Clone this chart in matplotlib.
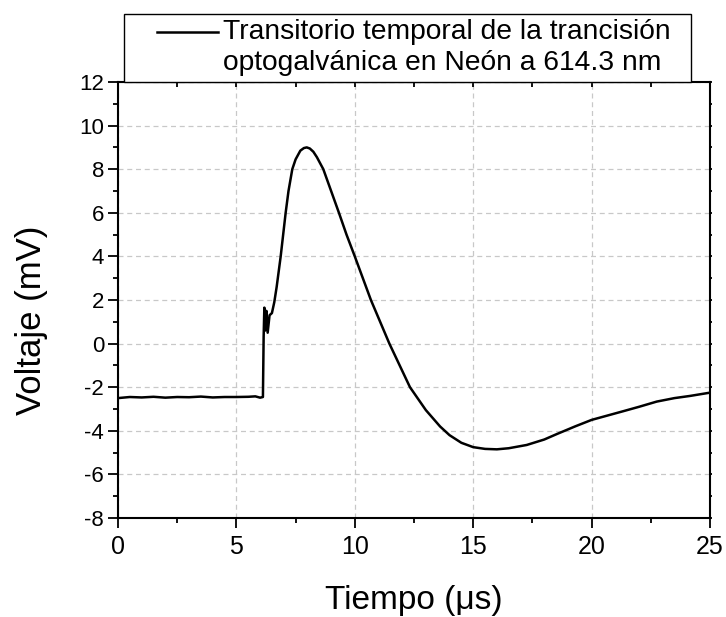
import matplotlib
matplotlib.use("Agg")
import matplotlib.pyplot as plt
from matplotlib.ticker import MultipleLocator
from matplotlib.legend_handler import HandlerLine2D
import matplotlib.lines as mlines
import numpy as np

plt.rcParams['font.family'] = ['Liberation Sans', 'DejaVu Sans']
plt.rcParams['axes.unicode_minus'] = False

# digitised transient (time in us, voltage in mV)
tiempo = [0.0, 0.5, 1.0, 1.5, 2.0, 2.5, 3.0, 3.5, 4.0, 4.5, 5.0, 5.5, 5.8, 6.0, 6.12,
          6.15, 6.18, 6.22, 6.27, 6.32, 6.4, 6.5, 6.6, 6.7, 6.87, 7.08, 7.2, 7.36,
          7.5, 7.7, 7.85, 7.97, 8.1, 8.25, 8.4, 8.67, 9.0, 9.33, 9.65, 10.0, 10.68,
          11.46, 12.33, 13.0, 13.6, 14.0, 14.5, 15.0, 15.5, 16.0, 16.5, 17.26,
          18.0, 18.53, 19.3, 20.0, 21.34, 22.0, 22.75, 23.5, 24.16, 25.0]
voltaje = [-2.5, -2.45, -2.47, -2.44, -2.48, -2.45, -2.46, -2.43, -2.47, -2.45,
           -2.45, -2.44, -2.42, -2.48, -2.45,
           0.3, 1.65, 0.6, 1.5, 0.5, 1.3, 1.4, 1.9, 2.6, 4.0, 6.0, 7.0, 8.0,
           8.45, 8.85, 8.97, 9.0, 8.95, 8.8, 8.55, 8.0, 7.0, 6.0, 5.0, 4.0, 2.0,
           0.0, -2.0, -3.05, -3.8, -4.2, -4.55, -4.75, -4.83, -4.85, -4.8, -4.65,
           -4.4, -4.15, -3.8, -3.5, -3.1, -2.9, -2.66, -2.5, -2.4, -2.25]

etiqueta = 'Transitorio temporal de la trancisión\noptogalvánica en Neón a 614.3 nm'


class HandlerPrimeraLinea(HandlerLine2D):
    # handle sits next to the first text line, with blank space on its left
    def create_artists(self, legend, orig_handle, xdescent, ydescent, width, height,
                       fontsize, trans):
        arts = super().create_artists(legend, orig_handle, xdescent, ydescent, width,
                                      height, fontsize, trans)
        for a in arts:
            x = np.asarray(a.get_xdata(), dtype=float)
            y = np.asarray(a.get_ydata(), dtype=float)
            a.set_xdata([x.min() + 19.7, x.max()])
            a.set_ydata(y[:1].repeat(2) + 0.55 * fontsize)
        return arts


fig = plt.figure(figsize=(7.26, 6.17), dpi=100)
ax = fig.add_axes([118/726, 1 - 518/617, (710-118)/726, (518-82)/617])

linea, = ax.plot(tiempo, voltaje, color='black', linewidth=1.8, label=etiqueta)

ax.set_xlim(0, 25)
ax.set_ylim(-8, 12)
ax.xaxis.set_major_locator(MultipleLocator(5))
ax.xaxis.set_minor_locator(MultipleLocator(2.5))
ax.yaxis.set_major_locator(MultipleLocator(2))
ax.yaxis.set_minor_locator(MultipleLocator(1))

ax.grid(True, which='major', linestyle=(0, (4, 3)), color='#c8c8c8', linewidth=0.9)
for s in ax.spines.values():
    s.set_linewidth(1.5)

ax.tick_params(which='major', direction='out', length=7, width=1.3, top=True, right=True)
ax.tick_params(which='minor', direction='out', length=3.5, width=1.3, top=True, right=True)
ax.tick_params(axis='x', which='major', labelsize=18, pad=5)
ax.tick_params(axis='y', which='major', labelsize=16, pad=3)
# top ticks are short and point inward, right ticks are tiny
for t in ax.xaxis.get_major_ticks() + ax.xaxis.get_minor_ticks():
    t.tick2line.set_marker(mlines.TICKDOWN)
    t.tick2line.set_markersize(3.5)
for t in ax.yaxis.get_major_ticks() + ax.yaxis.get_minor_ticks():
    t.tick2line.set_markersize(1.5)

ax.set_xlabel('Tiempo (μs)', fontsize=24, labelpad=19)
ax.set_ylabel('Voltaje (mV)', fontsize=25)
ax.yaxis.set_label_coords(-0.118, 0.454)

leg = ax.legend(handles=[linea], loc='lower left',
                bbox_to_anchor=(124/726, 1 - 82/617, (691-124)/726, 70/617),
                bbox_transform=fig.transFigure, mode='expand', borderaxespad=0,
                fontsize=20.3, handlelength=3.14, handletextpad=0.18, borderpad=0.2,
                frameon=True, fancybox=False, framealpha=1, labelspacing=0.1,
                handler_map={mlines.Line2D: HandlerPrimeraLinea()})
leg.get_texts()[0].set_linespacing(1.25)
leg.get_frame().set_edgecolor('black')
leg.get_frame().set_linewidth(1.0)

fig.savefig('out.png', dpi=100)
